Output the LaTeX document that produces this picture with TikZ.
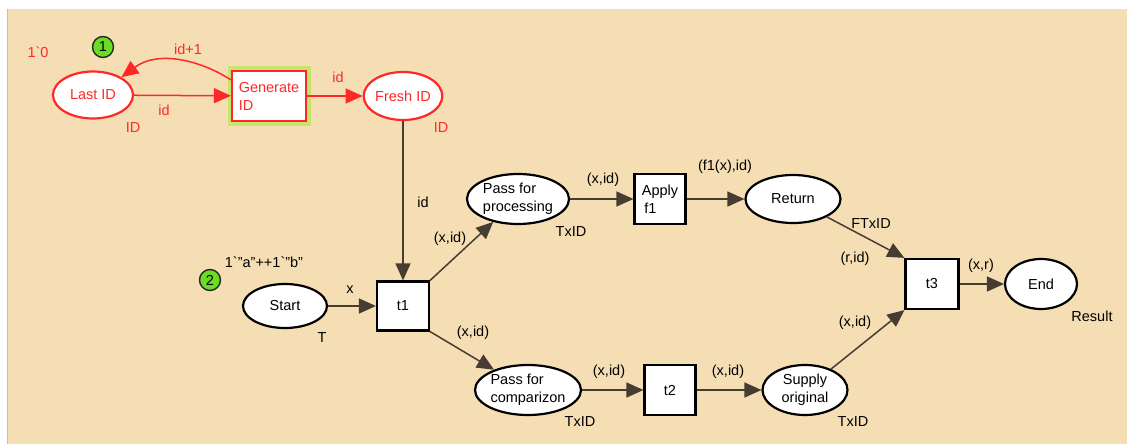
\documentclass[tikz,border=0pt]{standalone}
\usepackage{fontspec}
\setmainfont{Liberation Sans}
\usetikzlibrary{arrows.meta,shapes.geometric}

\definecolor{netbg}{RGB}{245,222,179}
\definecolor{netred}{RGB}{255,40,40}
\definecolor{netline}{RGB}{70,60,50}
\definecolor{tokengreen}{RGB}{105,220,35}
\definecolor{glow}{RGB}{200,228,110}

\tikzset{
  place/.style={ellipse, draw=black, line width=2.2pt, fill=white, inner sep=0pt, align=center},
  redplace/.style={place, draw=netred, text=netred},
  trans/.style={rectangle, draw=black, line width=2.2pt, fill=white, inner sep=0pt, align=left},
  arc/.style={draw=netline, line width=1.5pt, -{Triangle[length=17pt,width=15pt]}},
  redarc/.style={arc, draw=netred},
  inscr/.style={inner sep=0pt},
  redinscr/.style={inscr, text=netred},
  token/.style={circle, draw=black!85, line width=1.4pt, fill=tokengreen, minimum size=21pt, inner sep=0pt}
}

\begin{document}
\begin{tikzpicture}[x=1pt, y=-1pt, font=\fontsize{14.5}{18}\selectfont]
    % Canvas
    \useasboundingbox (0,0) rectangle (1127,444);
    \fill[white] (0,0) rectangle (1127,444);
    \fill[netbg] (8,9) rectangle (1127,444);
    \draw[black!25, line width=1pt] (7.5,9) -- (7.5,444);

    % ID generator (red part)
    \node[redplace, minimum width=80pt, minimum height=47pt] (last) at (93,95) {Last ID};
    \node[trans, draw=netred, text=netred, minimum width=74pt, minimum height=50pt,
          preaction={draw=glow, line width=9pt}] (gen) at (269,96) {Generate\\ID};
    \node[redplace, minimum width=72pt, minimum height=48pt] (fresh) at (403,96) {Fresh ID};

    % Main net
    \node[place, minimum width=84pt, minimum height=44pt] (start) at (285,306) {Start};
    \node[trans, minimum width=52pt, minimum height=49pt, align=center] (t1) at (403,306) {t1};
    \node[place, minimum width=102pt, minimum height=50pt, align=left] (pfp) at (518,199) {Pass for\\processing};
    \node[trans, minimum width=51pt, minimum height=50pt] (apply) at (660,199) {Apply\\\,f1};
    \node[place, minimum width=95pt, minimum height=48pt] (ret) at (793,199) {Return};
    \node[place, minimum width=92pt, minimum height=50pt, align=left] (pfc) at (528,390) {Pass for\\comparizon};
    \node[trans, minimum width=51pt, minimum height=50pt, align=center] (t2) at (670,390) {t2};
    \node[place, minimum width=85pt, minimum height=50pt] (supply) at (805,390) {Supply\\original};
    \node[trans, minimum width=53pt, minimum height=50pt, align=center] (t3) at (932,284) {t3};
    \node[place, minimum width=72pt, minimum height=50pt] (end) at (1041,284) {End};

    % Arcs
    \draw[redarc] (last) -- (gen);
    \draw[redarc] (gen.157) .. controls (200,60) and (158,50) .. (last.32);
    \draw[redarc] (gen) -- (fresh);
    \draw[arc] (fresh) -- (t1);
    \draw[arc] (start) -- (t1);
    \draw[arc] (t1.north east) -- (pfp);
    \draw[arc] (t1.south east) -- (pfc);
    \draw[arc] (pfp) -- (apply);
    \draw[arc] (apply) -- (ret);
    \draw[arc] (pfc) -- (t2);
    \draw[arc] (t2) -- (supply);
    \draw[arc] (ret) -- (t3.north west);
    \draw[arc] (supply) -- (t3.south west);
    \draw[arc] (t3) -- (end);

    % Tokens
    \node[token] (tok1) at (103,47) {1};
    \node[token] (tok2) at (210,280) {2};

    % Inscriptions
    \node[redinscr] (init1) at (38,52) {1\textasciigrave0};
    \node[redinscr] (inc) at (188,49) {id+1};
    \node[redinscr] (lid) at (164,110) {id};
    \node[redinscr] (tlast) at (133,128) {ID};
    \node[redinscr] (gid) at (338,77) {id};
    \node[redinscr] (tfresh) at (441,128) {ID};
    \node[inscr] (fid) at (423,202) {id};
    \node[inscr] (init2) at (264,262) {1\textasciigrave"a"++1\textasciigrave"b"};
    \node[inscr] (sx) at (350,290) {x};
    \node[inscr] (tstart) at (322,338) {T};
    \node[inscr] (e1) at (450,239) {(x,id)};
    \node[inscr] (e2) at (473,333) {(x,id)};
    \node[inscr] (e3) at (603,180) {(x,id)};
    \node[inscr] (tpfp) at (571,232) {TxID};
    \node[inscr] (e4) at (725,167) {(f1(x),id)};
    \node[inscr] (tret) at (871,224) {FTxID};
    \node[inscr] (e5) at (855,259) {(r,id)};
    \node[inscr] (e6) at (981,266) {(x,r)};
    \node[inscr] (tend) at (1092,316) {Result};
    \node[inscr] (e7) at (855,323) {(x,id)};
    \node[inscr] (e8) at (609,372) {(x,id)};
    \node[inscr] (tpfc) at (580,422) {TxID};
    \node[inscr] (e9) at (728,372) {(x,id)};
    \node[inscr] (tsupply) at (853,422) {TxID};
\end{tikzpicture}
\end{document}
